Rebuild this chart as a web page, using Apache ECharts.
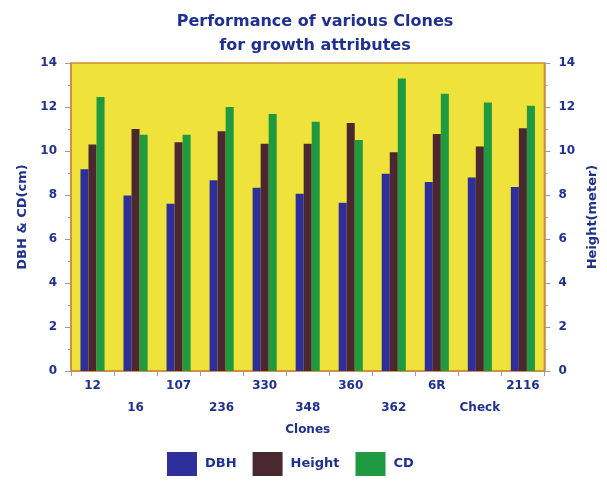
<!DOCTYPE html>
<html>
<head>
<meta charset="utf-8">
<script src="https://cdn.jsdelivr.net/npm/echarts@6/dist/echarts.min.js"></script>
<style>
html,body{margin:0;padding:0;background:#fff;}
#c{width:607px;height:481px;}
</style>
</head>
<body>
<div id="c"></div>
<script>
var categories = ['12','16','107','236','330','348','360','362','6R','Check','2116'];
var dbh    = [9.17, 7.98, 7.6, 8.67, 8.33, 8.06, 7.65, 8.97, 8.59, 8.79, 8.36];
var height = [10.29, 11.0, 10.4, 10.9, 10.33, 10.33, 11.27, 9.94, 10.77, 10.2, 11.03];
var cd     = [12.45, 10.74, 10.74, 12.0, 11.68, 11.33, 10.5, 13.29, 12.6, 12.2, 12.06];
var yTicks = [0, 2, 4, 6, 8, 10, 12, 14];

var txt = '#1f3190';
var font = 'DejaVu Sans';
var chart = echarts.init(document.getElementById('c'), null, {renderer:'canvas'});
function yAxis(pos, name) {
  return {
    type: 'value', position: pos, min: 0, max: 14, interval: 2,
    name: name, nameLocation: 'middle', nameGap: pos === 'left' ? 42 : 36,
    nameTextStyle: {color: txt, fontFamily: font, fontWeight: 'bold', fontSize: 13},
    axisLine: {show: true, lineStyle: {color: '#d08a3a', width: 1.5}},
    axisTick: {show: true, length: 6, lineStyle: {color: '#9a9aa8'}},
    minorTick: {show: true, splitNumber: 2, length: 3, lineStyle: {color: '#9a9aa8'}},
    splitLine: {show: false},
    axisLabel: {color: txt, fontFamily: font, fontWeight: 'bold', fontSize: 12, margin: 14,
      formatter: function(v){ return yTicks.indexOf(v) >= 0 ? String(v) : ''; }}
  };
}
chart.setOption({
  backgroundColor: '#ffffff',
  title: {
    text: 'Performance of various Clones\nfor growth attributes',
    left: 310, textAlign: 'center', top: 5,
    textStyle: {color: txt, fontFamily: font, fontWeight: 'bold', fontSize: 16, lineHeight: 24}
  },
  legend: {
    bottom: 0, left: 162, itemWidth: 30, itemHeight: 24, itemGap: 16,
    icon: 'rect',
    textStyle: {color: txt, fontFamily: font, fontWeight: 'bold', fontSize: 13, padding: [0, 0, 0, 3]},
    data: ['DBH','Height','CD']
  },
  grid: {left: 71, right: 58, top: 63, bottom: 110, show: true,
    backgroundColor: '#efe33b', borderColor: '#d08a3a', borderWidth: 1.5},
  xAxis: {
    type: 'category', data: categories,
    name: 'Clones', nameLocation: 'middle', nameGap: 45,
    nameTextStyle: {color: txt, fontFamily: font, fontWeight: 'bold', fontSize: 12},
    axisLine: {show: true, lineStyle: {color: '#d08a3a', width: 1.5}},
    axisTick: {show: true, length: 5, lineStyle: {color: '#9a9aa8'}},
    axisLabel: {interval: 0, color: txt, fontFamily: font, fontWeight: 'bold', fontSize: 12,
      lineHeight: 22, margin: 4,
      formatter: function(v, i){ return i % 2 === 1 ? '\n' + v : v; }}
  },
  yAxis: [yAxis('left', 'DBH & CD(cm)'), yAxis('right', 'Height(meter)')],
  series: [
    {name: 'DBH', type: 'bar', data: dbh, yAxisIndex: 0, barGap: '0%', barCategoryGap: '44%',
      itemStyle: {color: '#2e2e9c'}},
    {name: 'Height', type: 'bar', data: height, yAxisIndex: 1, barGap: '0%', barCategoryGap: '44%',
      itemStyle: {color: '#4b2730'}},
    {name: 'CD', type: 'bar', data: cd, yAxisIndex: 0, barGap: '0%', barCategoryGap: '44%',
      itemStyle: {color: '#1f9a40'}}
  ]
});
</script>
</body>
</html>
